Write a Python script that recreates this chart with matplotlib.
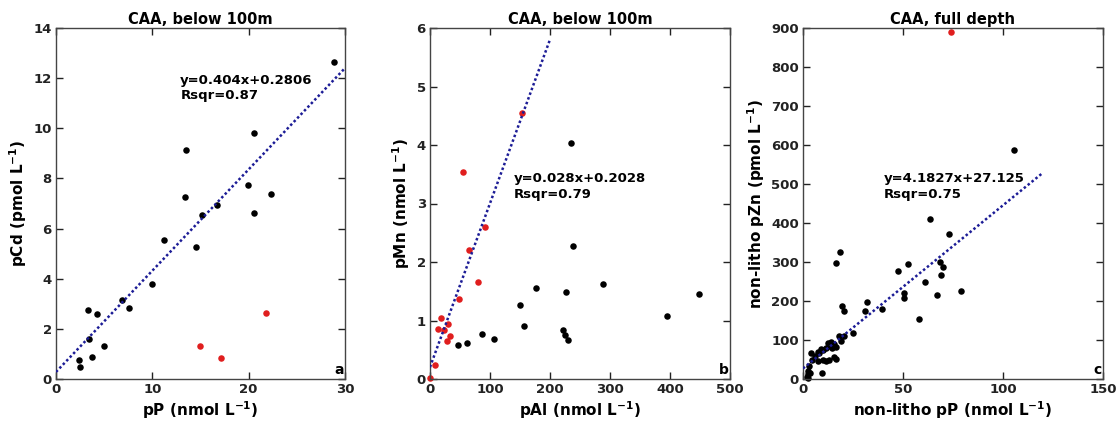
import matplotlib
matplotlib.use("Agg")
import matplotlib.pyplot as plt
import numpy as np

plt.rcParams['font.family'] = ['DejaVu Sans']
plt.rcParams['font.weight'] = 'bold'
plt.rcParams['mathtext.default'] = 'bf'
plt.rcParams['axes.linewidth'] = 1.0

# panel a: pCd vs pP, below 100m
a_black_x = [28.9, 20.6, 13.5, 19.9, 22.3, 13.4, 16.7, 15.2, 20.55, 11.2, 14.5,
             10.0, 6.85, 7.54, 3.32, 4.29, 3.43, 4.98, 3.77, 2.42, 2.53]
a_black_y = [12.65, 9.82, 9.13, 7.72, 7.38, 7.25, 6.95, 6.53, 6.62, 5.56, 5.27,
             3.80, 3.14, 2.85, 2.76, 2.61, 1.61, 1.33, 0.89, 0.77, 0.48]
a_red_x = [21.8, 14.9, 17.1]
a_red_y = [2.64, 1.31, 0.82]
a_slope, a_icpt, a_xmax = 0.404, 0.2806, 30

# panel b: pMn vs pAl, below 100m
b_black_x = [46.7, 62.2, 86.7, 106.7, 149.4, 156.7, 177.2, 235, 237.8, 226,
             288, 447.8, 395, 222, 225, 229.4]
b_black_y = [0.58, 0.61, 0.77, 0.69, 1.27, 0.91, 1.56, 4.04, 2.27, 1.49,
             1.62, 1.46, 1.08, 0.83, 0.76, 0.66]
b_red_x = [152.8, 55.5, 92.2, 65, 80.5, 48.9, 18.3, 12.8, 30.6, 23.3, 33.3,
           27.8, 8.3, 0.5]
b_red_y = [4.55, 3.53, 2.59, 2.21, 1.66, 1.37, 1.05, 0.85, 0.94, 0.83, 0.74,
           0.65, 0.24, 0.02]
b_slope, b_icpt, b_xmax = 0.028, 0.2028, 200

# panel c: non-litho pZn vs non-litho pP, full depth
c_black_x = [105.7, 63.3, 73, 68.7, 70.2, 69.2, 61.2, 52.3, 47.3, 50.7, 50.7,
             66.8, 79, 58.2, 39.3, 32, 30.8, 18.5, 16.5, 19.7, 20.3, 25,
             18, 20.3, 19, 13.8, 15.5, 16.3, 14.3, 12.3, 13.5, 11.3, 10.2, 9,
             7.3, 8, 3.8, 5.8, 4.7, 7.7, 9.8, 11.5, 13.2, 15.5, 16.3, 9.7,
             3.2, 2.7, 1.8, 2.3, 2.5, 3.3]
c_black_y = [588, 410, 373, 301, 286, 267, 250, 294, 277, 220, 207,
             216, 226, 153, 180, 197, 174, 325, 297, 187, 175, 117,
             110, 110, 98, 96, 89, 83, 80, 93, 85, 80, 74, 76,
             70, 66, 66, 59, 49, 47, 49, 47, 49, 56, 52, 15,
             33, 13, 6, 2, 20, 16]
c_red_x = [74]
c_red_y = [890]
c_slope, c_icpt, c_xmax = 4.1827, 27.125, 120

W, H = 1118, 421
fig = plt.figure(figsize=(W / 100, H / 100), dpi=100)

line_col = '#1c1c96'
red = '#e01e1e'


def make_panel(rect, bx, by, rx, ry, slope, icpt, xmax, xlim, ylim, xticks, yticks,
               title, xlabel, ylabel, eq_xy, eq, rsq, letter):
    ax = fig.add_axes([rect[0] / W, (H - rect[3]) / H, (rect[2] - rect[0]) / W,
                       (rect[3] - rect[1]) / H])
    xs = np.array([0, xmax])
    ax.plot(xs, slope * xs + icpt, linestyle=(0, (1, 1)), color=line_col, lw=1.8,
            zorder=3)
    ax.scatter(bx, by, s=22, color='black', zorder=2, clip_on=False, linewidths=0)
    ax.scatter(rx, ry, s=22, color=red, zorder=2, clip_on=False, linewidths=0)
    ax.set_xlim(xlim)
    ax.set_ylim(ylim)
    ax.set_xticks(xticks)
    ax.set_yticks(yticks)
    ax.tick_params(direction='in', length=5, width=1, top=True, right=True,
                   labelsize=9.5, colors='#222222', pad=3)
    for sp in ax.spines.values():
        sp.set_color('#444444')
    ax.set_title(title, fontsize=10.5, fontweight='bold', pad=3)
    ax.set_xlabel(xlabel, fontsize=11, fontweight='bold', labelpad=2)
    ax.set_ylabel(ylabel, fontsize=11, fontweight='bold', labelpad=3)
    ax.text(eq_xy[0], eq_xy[1], eq + '\n' + rsq, fontsize=9.5, fontweight='bold',
            va='center', ha='left', linespacing=1.25)
    ax.text(0.995, 0.005, letter, transform=ax.transAxes, ha='right', va='bottom',
            fontsize=10, fontweight='bold')
    return ax


make_panel((56, 28, 345, 379), a_black_x, a_black_y, a_red_x, a_red_y,
           a_slope, a_icpt, a_xmax, (0, 30), (0, 14), [0, 10, 20, 30],
           range(0, 15, 2), 'CAA, below 100m', r'pP (nmol L$^{-1}$)',
           r'pCd (pmol L$^{-1}$)', (12.9, 11.6), 'y=0.404x+0.2806', 'Rsqr=0.87', 'a')

make_panel((430, 28, 730, 379), b_black_x, b_black_y, b_red_x, b_red_y,
           b_slope, b_icpt, b_xmax, (0, 500), (0, 6), range(0, 501, 100),
           range(0, 7), 'CAA, below 100m', r'pAl (nmol L$^{-1}$)',
           r'pMn (nmol L$^{-1}$)', (139, 3.29), 'y=0.028x+0.2028', 'Rsqr=0.79', 'b')

make_panel((803, 28, 1103, 379), c_black_x, c_black_y, c_red_x, c_red_y,
           c_slope, c_icpt, c_xmax, (0, 150), (0, 900), [0, 50, 100, 150],
           range(0, 901, 100), 'CAA, full depth', r'non-litho pP (nmol L$^{-1}$)',
           r'non-litho pZn (pmol L$^{-1}$)', (40.2, 493), 'y=4.1827x+27.125',
           'Rsqr=0.75', 'c')

fig.savefig('out.png', dpi=100, facecolor='white')
